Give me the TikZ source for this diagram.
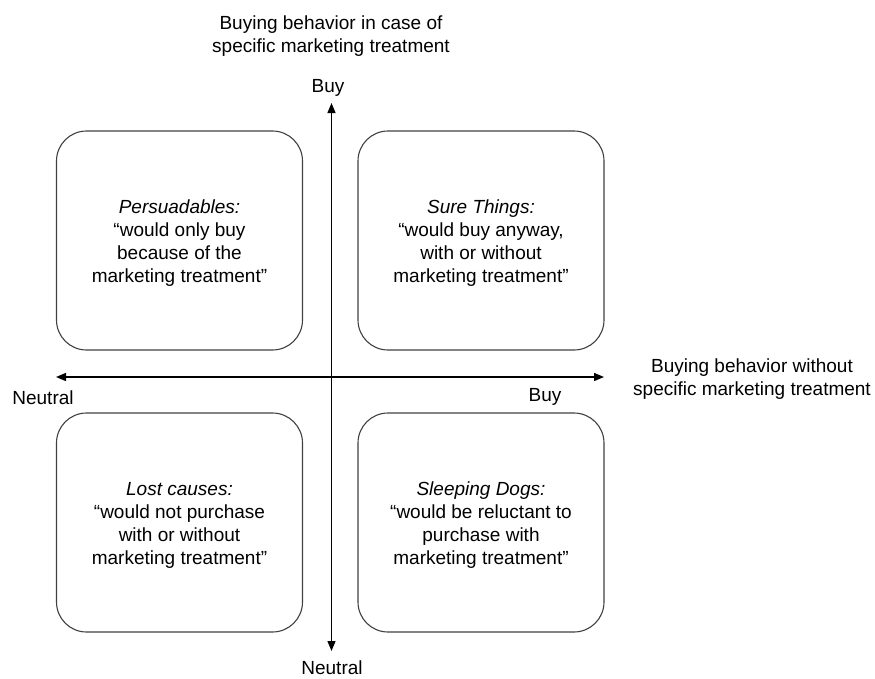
\documentclass[tikz,border=0pt]{standalone}
\usepackage{fontspec}
\setmainfont{Liberation Sans}
\usetikzlibrary{arrows.meta}
\begin{document}
\begin{tikzpicture}[x=1pt,y=-1pt,
  lbl/.style={align=center,inner sep=0pt,font=\fontsize{19}{23}\selectfont},
  quad/.style={draw=black!75,line width=1.1pt,rounded corners=30pt,minimum width=246pt,minimum height=219pt,align=center,inner sep=0pt,font=\fontsize{19}{23}\selectfont},
  qtext/.style={align=center,inner sep=0pt,font=\fontsize{19}{23}\selectfont},
  axis/.style={line width=1.4pt,{Triangle[length=10pt,width=8pt]}-{Triangle[length=10pt,width=8pt]}}]
\useasboundingbox (0,0) rectangle (875,678);
\node[quad] (pq) at (179.5,240.5) {};
\node[quad] (st) at (481,240.5) {};
\node[quad] (lc) at (179.5,522.5) {};
\node[quad] (sd) at (481,522.5) {};
\node[qtext] (pqt) at ([yshift=-3pt]pq.center) {\textit{Persuadables:}\\“would only buy\\because of the\\marketing treatment”};
\node[qtext] (stt) at ([yshift=-3pt]st.center) {\textit{Sure Things:}\\“would buy anyway,\\with or without\\marketing treatment”};
\node[qtext] (lct) at ([yshift=-3pt]lc.center) {\textit{Lost causes:}\\“would not purchase\\with or without\\marketing treatment”};
\node[qtext] (sdt) at ([yshift=-3pt]sd.center) {\textit{Sleeping Dogs:}\\“would be reluctant to\\purchase with\\marketing treatment”};
\coordinate (xl) at (56,377);
\coordinate (xr) at (604,377);
\coordinate (yt) at (331.5,103);
\coordinate (yb) at (331.5,651);
\draw[axis] (xl) -- (xr);
\draw[axis] (yb) -- (yt);
\node[lbl] (ytitle) at (331,36) {Buying behavior in case of\\specific marketing treatment};
\node[lbl] (xtitle) at (752,379) {Buying behavior without\\specific marketing treatment};
\node[lbl] (ybuy) at (328,88) {Buy};
\node[lbl] (yneu) at (332,668) {Neutral};
\node[lbl] (xneu) at (43,398) {Neutral};
\node[lbl] (xbuy) at (545,397) {Buy};
\end{tikzpicture}
\end{document}
